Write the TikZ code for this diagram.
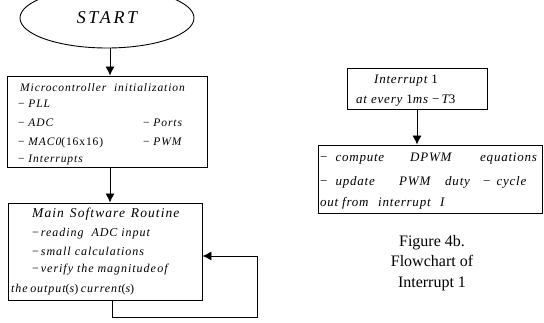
\documentclass[tikz,border=0pt]{standalone}
\usepackage{fontspec}
\setmainfont{Liberation Serif}
\newfontfamily\flowfont[LetterSpace=8]{Liberation Serif}
\newfontfamily\isrfont[LetterSpace=6]{Liberation Serif}
\newfontfamily\startfont[LetterSpace=15]{Liberation Serif}
\usetikzlibrary{arrows.meta,shapes.geometric}
\newcommand{\mn}{{\upshape −}}
\begin{document}
\begin{tikzpicture}[x=1pt,y=-1pt,
  box/.style={draw,line width=0.9pt,rectangle,inner sep=0},
  txt/.style={inner sep=0,anchor=base west,font=\flowfont\itshape\fontsize{11.5}{13}\selectfont},
  txtm/.style={txt,font=\flowfont\itshape\fontsize{12}{14}\selectfont},
  txtb/.style={txt,font=\isrfont\itshape\fontsize{13}{15}\selectfont},
  arr/.style={line width=0.9pt,-{Latex[width=9pt,length=9pt]}}]
\useasboundingbox (0,0) rectangle (544,323);
\clip (0,0) rectangle (544,323);

% start terminal
\node[draw,ellipse,line width=0.9pt,minimum width=174pt,minimum height=60pt,inner sep=0,
      font=\startfont\itshape\fontsize{18}{20}\selectfont] (start) at (107,18) {START};

% initialization block
\node[box,minimum width=200pt,minimum height=91pt] (init) at (107,121.5) {};
\node[txt] (i1) at (20,92) {Microcontroller\hspace{4pt} initialization};
\node[txt] (i2) at (18,108) {\mn\ PLL};
\node[txt] (i3) at (18,127) {\mn\ ADC};
\node[txt] (i4) at (18,146) {\mn\ MAC0\upshape(16x16)};
\node[txt] (i5) at (18,163) {\mn\ Interrupts};
\node[txt] (i6) at (143,127) {\mn\ Ports};
\node[txt] (i7) at (143,146) {\mn\ PWM};

% main loop block
\node[box,minimum width=194pt,minimum height=97pt] (main) at (105,251.5) {};
\node[txt,font=\flowfont\itshape\fontsize{13.5}{15}\selectfont] (m1) at (32,217.5)
  {Main\hspace{6pt}Software\hspace{6pt}Routine};
\node[txtm] (m2) at (32,236.5) {\mn\,reading\hspace{4pt} ADC input};
\node[txtm] (m3) at (32,255.5) {\mn\,small calculations};
\node[txtm] (m4) at (32,272.5) {\mn\,verify the magnitude\hspace{1.5pt}of};
\node[txtm] (m5) at (11,292.5) {the\hspace{2.5pt}output{\upshape(}s{\upshape)}\hspace{2.5pt}current{\upshape(}s{\upshape)}};

% interrupt trigger block
\node[box,minimum width=140pt,minimum height=41pt] (irq) at (417,88.5) {};
\node[txtb] (q1) at (374,84) {Interrupt {\upshape 1}};
\node[txtb] (q2) at (356,104) {at every {\upshape 1}ms \mn\,T{\upshape 3}};

% interrupt service block
\node[box,minimum width=224pt,minimum height=68pt] (isr) at (430,179) {};
\node[txtb] (s1) at (320,162)
  {\makebox[90pt][l]{\mn\hspace{8pt}compute}\makebox[70pt][l]{DPWM}equations};
\node[txtb] (s2) at (320,186)
  {\makebox[79pt][l]{\mn\hspace{8pt}update}\makebox[46pt][l]{PWM}\makebox[38pt][l]{duty}\mn\hspace{6pt}cycle};
\node[txtb] (s3) at (320,207)
  {\makebox[22pt][l]{out}\makebox[36pt][l]{from}\makebox[62pt][l]{interrupt}I};

% caption
\node[align=center,inner sep=0,font=\fontsize{16}{20.5}\selectfont] (cap) at (432,263)
  {Figure 4b.\\Flowchart of\\Interrupt 1};

% connectors
\coordinate (loop) at (257,317);
\draw[arr] ([xshift=3pt]start.south) -- ([xshift=3pt]start.south |- init.north);
\draw[arr] ([xshift=3pt]init.south) -- ([xshift=3pt]init.south |- main.north);
\draw[arr] ([xshift=7pt]main.south) |- (loop) |- ([yshift=-4.5pt]main.east);
\draw[arr] (irq.south) -- (irq.south |- isr.north);
\end{tikzpicture}
\end{document}
